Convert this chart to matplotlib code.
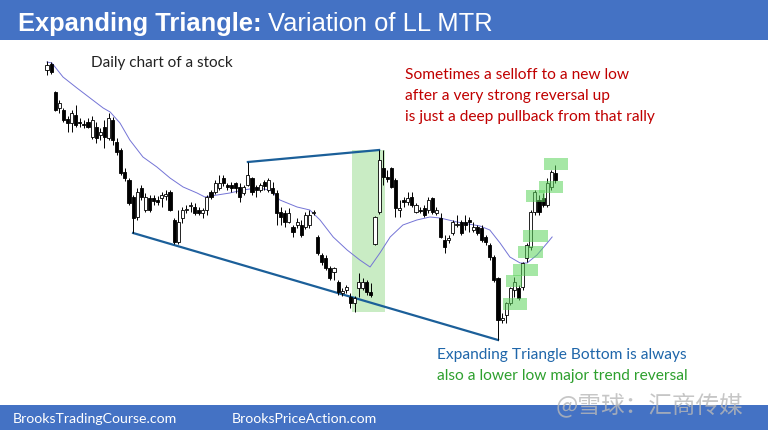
import numpy as np
import matplotlib.pyplot as plt
from matplotlib.patches import Rectangle

# daily bars (price units)
opens = [290, 296, 268, 252, 250, 241, 237, 245, 238, 236, 238, 223, 233, 225, 233, 222, 240, 218, 210, 188,
         180, 163, 143, 172, 150, 162, 162, 160, 162, 164, 168, 140, 118, 142, 150, 154, 153, 150, 147, 150,
         168, 168, 172, 182, 175, 175, 177, 173, 167, 175, 182, 173, 170, 178, 170, 172, 167, 148, 147, 138,
         133, 135, 135, 133, 135, 147, 123, 105, 102, 92, 88, 78, 67, 70, 63, 57, 72, 72, 78, 68,
         116, 148, 192, 183, 192, 180, 150, 160, 158, 163, 148, 150, 152, 150, 162, 147, 142, 120, 120, 127,
         135, 138, 138, 140, 130, 133, 132, 123, 115, 103, 82, 40, 45, 57, 70, 72, 73, 102, 113, 148,
         160, 162, 155, 173, 187]
highs = [299, 298, 269, 260, 252, 244, 250, 255, 242, 240, 242, 244, 238, 232, 240, 247, 243, 222, 212, 192,
         182, 165, 172, 175, 167, 165, 165, 164, 168, 170, 170, 142, 150, 153, 155, 158, 157, 153, 152, 165,
         170, 180, 185, 185, 177, 178, 178, 177, 175, 198, 183, 175, 177, 180, 182, 178, 170, 153, 150, 152,
         135, 142, 140, 148, 150, 150, 125, 107, 105, 94, 93, 80, 72, 75, 67, 64, 87, 82, 80, 77,
         144, 210, 210, 190, 193, 182, 160, 163, 168, 168, 157, 153, 155, 163, 163, 153, 147, 125, 125, 140,
         145, 140, 145, 143, 138, 135, 135, 125, 117, 105, 83, 47, 58, 73, 83, 75, 98, 117, 150, 170,
         165, 167, 182, 190, 195]
lows = [285, 286, 249, 247, 238, 228, 228, 233, 233, 232, 232, 221, 217, 220, 212, 220, 215, 205, 185, 179,
        155, 127, 140, 160, 148, 148, 155, 155, 153, 160, 149, 116, 116, 137, 147, 148, 145, 145, 142, 145,
        161, 166, 170, 174, 170, 168, 167, 158, 165, 174, 165, 163, 168, 170, 168, 165, 135, 135, 133, 137,
        123, 132, 123, 131, 132, 145, 105, 95, 90, 80, 80, 65, 64, 67, 52, 48, 63, 70, 65, 63,
        115, 146, 175, 178, 172, 143, 143, 153, 155, 153, 147, 147, 143, 147, 146, 145, 122, 107, 117, 125,
        133, 125, 130, 128, 128, 125, 118, 115, 100, 78, 20, 37, 37, 55, 63, 60, 70, 98, 110, 145,
        145, 153, 153, 170, 177]
closes = [295, 288, 250, 257, 240, 237, 247, 235, 237, 235, 233, 240, 222, 228, 223, 242, 220, 208, 187, 182,
          157, 142, 168, 163, 163, 150, 159, 158, 165, 166, 150, 118, 138, 150, 151, 155, 147, 147, 150, 163,
          163, 177, 177, 177, 173, 172, 172, 163, 173, 185, 168, 170, 175, 174, 180, 167, 147, 143, 138, 147,
          128, 138, 125, 145, 145, 148, 107, 98, 92, 82, 92, 68, 69, 73, 57, 62, 78, 78, 68, 65,
          143, 200, 183, 181, 173, 152, 152, 158, 162, 155, 155, 149, 145, 160, 148, 150, 123, 113, 122, 138,
          136, 127, 135, 138, 133, 127, 120, 118, 103, 80, 40, 42, 57, 72, 78, 62, 97, 115, 148, 168,
          148, 155, 177, 188, 180]

# 20-bar moving average, read at a few bars
ma_bar = [0, 1.2, 3.9, 7.3, 10.5, 13.7, 15.4, 17.8, 20.2, 23.4, 26.8, 30, 33.2, 36.6, 38.5, 41.5, 44.6,
          47.8, 51.2, 54.4, 56.8, 61, 64.1, 66.6, 69.8, 73.2, 76.3, 78.8, 81.2, 83.7, 86.8, 90.2, 93.4,
          95.9, 100, 105.6, 108, 110.5, 112.9, 115.4, 117.1, 119.5, 122, 123.2]
ma_val = [298, 297, 283, 272, 262, 252, 248, 237, 220, 203, 193, 182, 173, 167, 163, 165, 167,
          170, 172, 170, 160, 153, 150, 140, 123, 110, 100, 93, 107, 123, 135, 140, 143,
          142, 138, 134, 130, 117, 103, 97, 97, 105, 117, 123]

# green boxes on the rally bars: centre bar, centre price, width (bars)
box_bar = [114.1, 114.0, 116.7, 117.9, 119.1, 119.1, 122.9, 124.1]
box_price = [56.5, 79, 90.5, 108.5, 124, 164, 173, 196]
box_width = [5.9, 3.9, 6.1, 6.1, 6.1, 4.6, 5.9, 5.9]

upper_line = [49, 81]     # bars whose highs define the top line
lower_line = [21, 110]    # bars whose lows define the bottom line
zone = [75, 82]           # shaded bars

o = np.array(opens); h = np.array(highs); l = np.array(lows); c = np.array(closes)
idx = np.arange(len(o))

W, H = 768, 430
fig = plt.figure(figsize=(W / 100, H / 100), dpi=100)
ax = fig.add_axes([0, 0, 1, 1])
spacing = 4.1
ax.set_xlim(-47 / spacing, (W - 47) / spacing)
ax.set_ylim(360 - H, 360)
ax.axis('off')

# shaded zone
ax.add_patch(Rectangle((zone[0] - 0.5, l[zone[0]]), zone[1] - zone[0] + 1, h[81] - l[zone[0]],
                       facecolor='#c9ecc4', edgecolor='none', zorder=1))

# trend lines
ax.plot(upper_line, h[upper_line], color='#1b5f99', lw=1.6, zorder=2)
ax.plot(lower_line, l[lower_line], color='#1b5f99', lw=1.6, zorder=2)

# moving average
ax.plot(ma_bar, ma_val, color='#7474d6', lw=0.7, zorder=2)

# candles
up = c >= o
ax.vlines(idx, l, h, color='black', lw=0.7, zorder=3)
body_bot = np.minimum(o, c)
body_h = np.maximum(np.abs(c - o), 1.0)
ax.bar(idx[up], body_h[up], bottom=body_bot[up], width=0.78, color='white', edgecolor='black', lw=0.6, zorder=4)
ax.bar(idx[~up], body_h[~up], bottom=body_bot[~up], width=0.78, color='black', edgecolor='black', lw=0.6, zorder=4)

# green highlight boxes
for bx, bp, bw in zip(box_bar, box_price, box_width):
    ax.add_patch(Rectangle((bx - bw / 2, bp - 6), bw, 12, facecolor='#5cd45c', alpha=0.55,
                           edgecolor='none', zorder=5))

# header / footer bars
blue = '#4472c4'
fig.patches.append(Rectangle((0, 1 - 40 / H), 1, 40 / H, transform=fig.transFigure, facecolor=blue, zorder=0))
fig.patches.append(Rectangle((0, 0), 1, 25 / H, transform=fig.transFigure, facecolor=blue, zorder=0))

t1 = fig.text(18 / W, 1 - 31 / H, 'Expanding Triangle:', color='white', fontsize=18.4, fontweight='bold',
              family='Liberation Sans', va='baseline')
fig.canvas.draw()
bb = t1.get_window_extent()
fig.text(bb.x1 / W + 6 / W, 1 - 31 / H, 'Variation of LL MTR', color='white', fontsize=18.4,
         family='Liberation Sans', va='baseline')

ff = 'Lato'
fig.text(13 / W, 11 / H, 'BrooksTradingCourse.com', color='white', fontsize=10.2, family=ff, va='center')
fig.text(232 / W, 11 / H, 'BrooksPriceAction.com', color='white', fontsize=10.2, family=ff, va='center')

fig.text(91 / W, 1 - 63 / H, 'Daily chart of a stock', color='#222222', fontsize=11, family=ff, va='center')

red_lines = ['Sometimes a selloff to a new low', 'after a very strong reversal up',
             'is just a deep pullback from that rally']
for k, s in enumerate(red_lines):
    fig.text(405 / W, 1 - (75 + 21 * k) / H, s, color='#c00000', fontsize=11.2, family=ff, va='center')

fig.text(437 / W, 1 - 355 / H, 'Expanding Triangle Bottom is always', color='#1f66aa', fontsize=11.2,
         family=ff, va='center')
fig.text(437 / W, 1 - 376 / H, 'also a lower low major trend reversal', color='#2ea02e', fontsize=11.2,
         family=ff, va='center')

fig.text(556 / W, 1 - 405 / H, '@雪球：汇商传媒', color='#b8b8b8', fontsize=17, alpha=0.8,
         family=['Noto Sans CJK SC', 'DejaVu Sans'], va='center')

fig.savefig('out.png', dpi=100)
